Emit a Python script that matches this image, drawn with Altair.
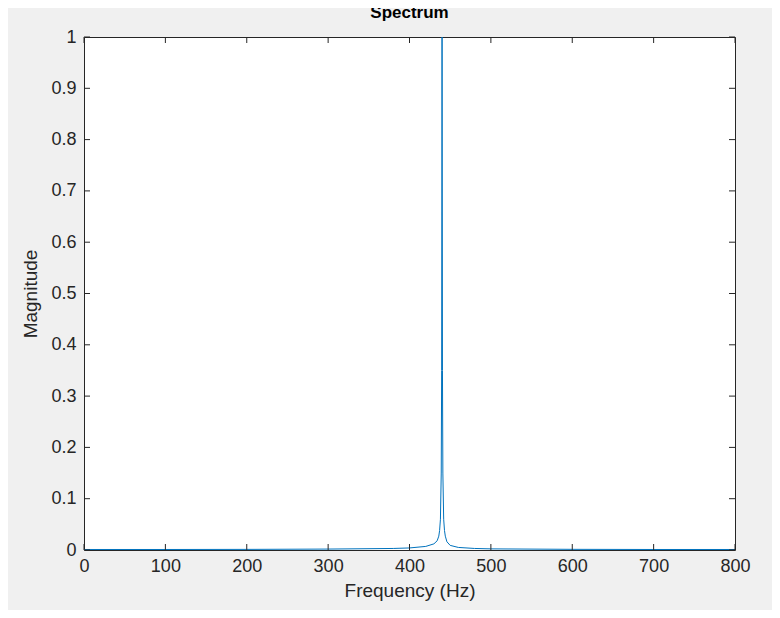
import altair as alt
import pandas as pd

freq = [0, 100, 200, 300, 380, 400, 420, 430, 434, 436, 437, 438, 439, 439.5, 440, 440.5, 441, 442, 443, 444, 446, 450, 460, 480, 500, 600, 700, 800]
mag = [0.001, 0.001, 0.0012, 0.0018, 0.003, 0.004, 0.007, 0.012, 0.018, 0.027, 0.038, 0.06, 0.15, 0.35, 1.0, 0.35, 0.15, 0.06, 0.038, 0.027, 0.016, 0.009, 0.005, 0.003, 0.0022, 0.0013, 0.001, 0.001]
xticks = [0, 100, 200, 300, 400, 500, 600, 700, 800]
yticks = [0, 0.1, 0.2, 0.3, 0.4, 0.5, 0.6, 0.7, 0.8, 0.9, 1]

df = pd.DataFrame({"f": freq, "m": mag})
xs = alt.Scale(domain=[0, 800], nice=False)
ys = alt.Scale(domain=[0, 1], nice=False)
font = "Liberation Sans"

line = alt.Chart(df).mark_line(color="#0072BD", strokeWidth=1).encode(
    x=alt.X("f:Q", scale=xs, title="Frequency (Hz)",
            axis=alt.Axis(values=xticks, ticks=False, grid=False, labelPadding=7, domain=False,
                          labelFlush=False, labelOverlap=False, titlePadding=6)),
    y=alt.Y("m:Q", scale=ys, title="Magnitude",
            axis=alt.Axis(values=yticks, ticks=False, grid=False, labelPadding=8, domain=False,
                          labelFlush=False, labelOverlap=False, titlePadding=10,
                          labelExpr="datum.value == 0 ? '0' : datum.value == 1 ? '1' : format(datum.value, '.1f')")),
)

xt = pd.DataFrame({"v": xticks})
yt = pd.DataFrame({"v": yticks})
tk = dict(color="#262626", strokeWidth=1)
bx = alt.Chart(xt).mark_rule(**tk).encode(x=alt.X("v:Q", scale=xs), y=alt.value(513), y2=alt.value(507))
tx = alt.Chart(xt).mark_rule(**tk).encode(x=alt.X("v:Q", scale=xs), y=alt.value(0), y2=alt.value(6))
ly = alt.Chart(yt).mark_rule(**tk).encode(y=alt.Y("v:Q", scale=ys), x=alt.value(0), x2=alt.value(6))
ry = alt.Chart(yt).mark_rule(**tk).encode(y=alt.Y("v:Q", scale=ys), x=alt.value(651), x2=alt.value(645))

chart = alt.layer(line, bx, tx, ly, ry).properties(
    width=651, height=513,
    title=alt.TitleParams("Spectrum", font=font, fontSize=17, fontWeight="bold", color="black", offset=6),
    background="#f0f0f0",
    padding={"left": 76, "top": 29, "right": 37, "bottom": 60},
    autosize=alt.AutoSizeParams(type="none"),
).configure_view(fill="white", stroke="#262626", strokeWidth=1).configure_axis(
    labelFont=font, labelFontSize=18, labelColor="#262626",
    titleFont=font, titleFontSize=19, titleColor="#262626", titleFontWeight="normal",
)
chart.save("out.html", embed_options={"renderer": "svg", "actions": False})
